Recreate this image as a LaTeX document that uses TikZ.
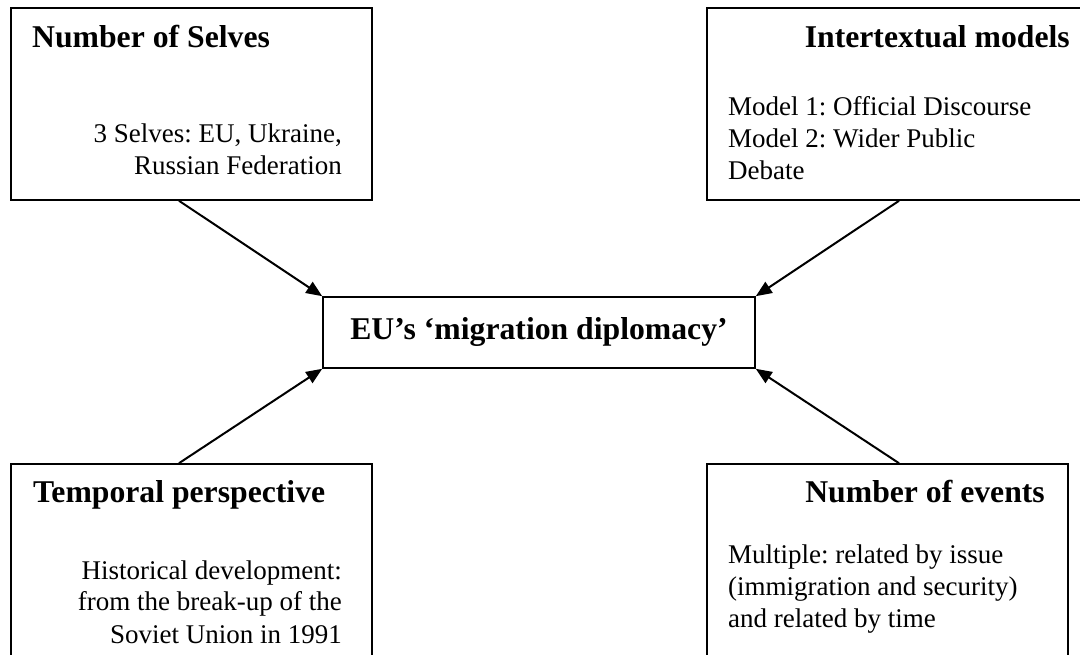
\documentclass[tikz,border=0pt]{standalone}
\usepackage{fontspec}
\setmainfont{Liberation Serif}
\usetikzlibrary{arrows.meta, positioning, calc}
\frenchspacing

\tikzset{
  box/.style={draw, line width=1.6pt, inner sep=0pt},
  headtext/.style={font=\fontsize{31.7}{38}\selectfont\bfseries, inner sep=0pt},
  bodytext/.style={font=\fontsize{27}{32}\selectfont, inner sep=0pt},
  feed/.style={line width=2pt, -{Triangle[length=16pt,width=13pt]}}
}

\begin{document}
\begin{tikzpicture}[x=1pt, y=1pt]
    \useasboundingbox (0,0) rectangle (1080,654);
    \clip (0,0) rectangle (1080,654);

    % the four dimensions round the centre
    \node[box, minimum width=361pt, minimum height=192pt] (selves) at (191.5,550) {};
    \node[box, minimum width=386pt, minimum height=192pt] (models) at (900,550) {};
    \node[box, minimum width=361pt, minimum height=200pt] (temporal) at (191.5,90) {};
    \node[box, minimum width=361pt, minimum height=200pt] (events) at (887.5,90) {};

    % centre
    \node[box, headtext, minimum width=432pt, minimum height=71pt] (diplo) at (539,321.5) {EU's `migration diplomacy'};

    % texts in the boxes (base = last line)
    \node[headtext, anchor=base west] (selveshead) at (32,606) {Number of Selves};
    \node[bodytext, anchor=base east, align=right] (selvesbody) at (342,479) {3 Selves: EU, Ukraine,\\Russian Federation};

    \node[headtext, anchor=base east] (modelshead) at (1070,606) {Intertextual models};
    \node[bodytext, anchor=base west, align=left] (modelsbody) at (728,474) {Model 1: Official Discourse\\Model 2: Wider Public\\Debate};

    \node[headtext, anchor=base west] (temphead) at (33,151) {Temporal perspective};
    \node[bodytext, anchor=base east, align=right] (tempbody) at (342,11) {Historical development:\\from the break-up of the\\Soviet Union in 1991};

    \node[headtext, anchor=base east] (eventshead) at (1045,151) {Number of events};
    \node[bodytext, anchor=base west, align=left] (eventsbody) at (728,27) {Multiple: related by issue\\(immigration and security)\\and related by time};

    % arrows
    \draw[feed] ([xshift=-12.5pt]selves.south) -- (diplo.north west);
    \draw[feed] ([xshift=-1pt]models.south) -- (diplo.north east);
    \draw[feed] ([xshift=-12.5pt]temporal.north) -- (diplo.south west);
    \draw[feed] ([xshift=11.5pt]events.north) -- (diplo.south east);
\end{tikzpicture}
\end{document}
